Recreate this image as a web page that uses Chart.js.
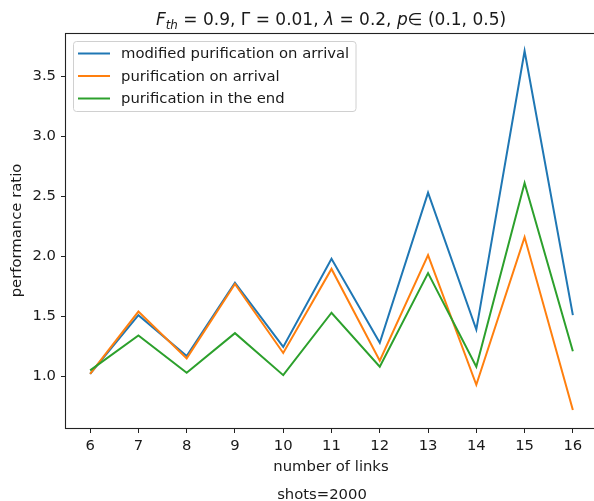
<!DOCTYPE html>
<html>
<head>
<meta charset="utf-8">
<script src="https://cdn.jsdelivr.net/npm/chart.js@4.4.1/dist/chart.umd.min.js"></script>
<style>
  html, body { margin: 0; padding: 0; background: #fff; }
  #wrap { width: 594px; height: 501px; overflow: hidden; position: relative; }
  canvas { display: block; }
</style>
</head>
<body>
<div id="wrap"><canvas id="chart" width="597" height="501"></canvas></div>
<script>
const links = [6, 7, 8, 9, 10, 11, 12, 13, 14, 15, 16];
const modifiedOnArrival = [1.02, 1.51, 1.17, 1.78, 1.245, 1.98, 1.28, 2.53, 1.39, 3.71, 1.51];
const onArrival = [1.02, 1.54, 1.15, 1.77, 1.195, 1.895, 1.13, 2.01, 0.93, 2.16, 0.72];
const inTheEnd = [1.05, 1.34, 1.03, 1.36, 1.01, 1.53, 1.08, 1.86, 1.08, 2.61, 1.21];
const seriesLabels = ["modified purification on arrival", "purification on arrival", "purification in the end"];
const xTicks = [6, 7, 8, 9, 10, 11, 12, 13, 14, 15, 16];
const yTicks = [1.0, 1.5, 2.0, 2.5, 3.0, 3.5];

const FONT = "'DejaVu Sans', sans-serif";
const TEXT = "#1a1a1a";

const points = ys => links.map((x, i) => ({ x: x, y: ys[i] }));

// spines, labels, title and legend in matplotlib style
const decorations = {
  id: "decorations",
  afterDatasetsDraw(chart) {
    const ctx = chart.ctx;
    const a = chart.chartArea;
    ctx.save();

    // frame
    ctx.strokeStyle = "#222";
    ctx.lineWidth = 1.1;
    ctx.strokeRect(a.left - 0.5, a.top + 0.5, a.right - a.left + 0.5, a.bottom - a.top);

    // legend
    const lx = 73.5, ly = 41.5, lw = 282.5, lh = 70;
    ctx.beginPath();
    ctx.roundRect(lx, ly, lw, lh, 3);
    ctx.fillStyle = "rgba(255,255,255,0.8)";
    ctx.fill();
    ctx.strokeStyle = "#d0d0d0";
    ctx.lineWidth = 1;
    ctx.stroke();
    ctx.font = "14.8px " + FONT;
    ctx.textBaseline = "middle";
    ctx.textAlign = "left";
    chart.data.datasets.forEach((ds, i) => {
      const y = 53.5 + i * 22.5;
      ctx.strokeStyle = ds.borderColor;
      ctx.lineWidth = 2;
      ctx.beginPath();
      ctx.moveTo(78, y);
      ctx.lineTo(110, y);
      ctx.stroke();
      ctx.fillStyle = TEXT;
      ctx.fillText(ds.label, 121, y + 1);
    });
    ctx.restore();
  },
  afterDraw(chart) {
    const ctx = chart.ctx;
    const a = chart.chartArea;
    ctx.save();
    ctx.fillStyle = TEXT;

    // title with italic symbols and subscript
    const size = 17;
    const parts = [
      { t: "F", it: true },
      { t: "th", it: true, sub: true },
      { t: " = 0.9, Γ = 0.01, " },
      { t: "λ", it: true },
      { t: " = 0.2, " },
      { t: "p", it: true },
      { t: "∈ (0.1, 0.5)" }
    ];
    const fontOf = p => (p.it ? "oblique " : "") + (p.sub ? size * 0.7 : size) + "px " + FONT;
    let total = 0;
    parts.forEach(p => { ctx.font = fontOf(p); p.w = ctx.measureText(p.t).width; total += p.w; });
    let x = 331 - total / 2;
    ctx.textBaseline = "alphabetic";
    ctx.textAlign = "left";
    parts.forEach(p => {
      ctx.font = fontOf(p);
      ctx.fillText(p.t, x, p.sub ? 29 : 25);
      x += p.w;
    });

    // axis labels
    ctx.font = "14.8px " + FONT;
    ctx.textAlign = "center";
    ctx.fillText("number of links", (a.left + 596) / 2, 471);
    ctx.fillText("shots=2000", 322, 499);
    ctx.translate(17, (a.top + a.bottom) / 2);
    ctx.rotate(-Math.PI / 2);
    ctx.textBaseline = "middle";
    ctx.fillText("performance ratio", 0, 0);
    ctx.restore();
  }
};

new Chart(document.getElementById("chart"), {
  type: "line",
  data: {
    datasets: [
      { label: seriesLabels[0], data: points(modifiedOnArrival), borderColor: "#1f77b4", order: 2 },
      { label: seriesLabels[1], data: points(onArrival), borderColor: "#ff7f0e", order: 1 },
      { label: seriesLabels[2], data: points(inTheEnd), borderColor: "#2ca02c", order: 0 }
    ].map(d => Object.assign(d, { borderWidth: 2, pointRadius: 0, tension: 0, fill: false }))
  },
  options: {
    responsive: false,
    animation: false,
    events: [],
    layout: { padding: { top: 33, left: 0, right: 0, bottom: 0 } },
    plugins: { legend: { display: false }, tooltip: { enabled: false } },
    scales: {
      x: {
        type: "linear",
        min: 5.5,
        max: 16.5,
        afterBuildTicks: s => { s.ticks = xTicks.map(v => ({ value: v })); },
        afterFit: s => { s.height = 73; },
        border: { display: false },
        grid: { drawOnChartArea: false, tickLength: 5, color: "#222", lineWidth: 1 },
        ticks: { color: TEXT, font: { family: FONT, size: 14.8 }, padding: 4, maxRotation: 0, callback: v => v }
      },
      y: {
        min: 0.57,
        max: 3.86,
        afterBuildTicks: s => { s.ticks = yTicks.map(v => ({ value: v })); },
        afterFit: s => { s.width = 66; },
        border: { display: false },
        grid: { drawOnChartArea: false, tickLength: 5, color: "#222", lineWidth: 1 },
        ticks: { color: TEXT, font: { family: FONT, size: 14.8 }, padding: 5, callback: v => v.toFixed(1) }
      }
    }
  },
  plugins: [decorations]
});
</script>
</body>
</html>
